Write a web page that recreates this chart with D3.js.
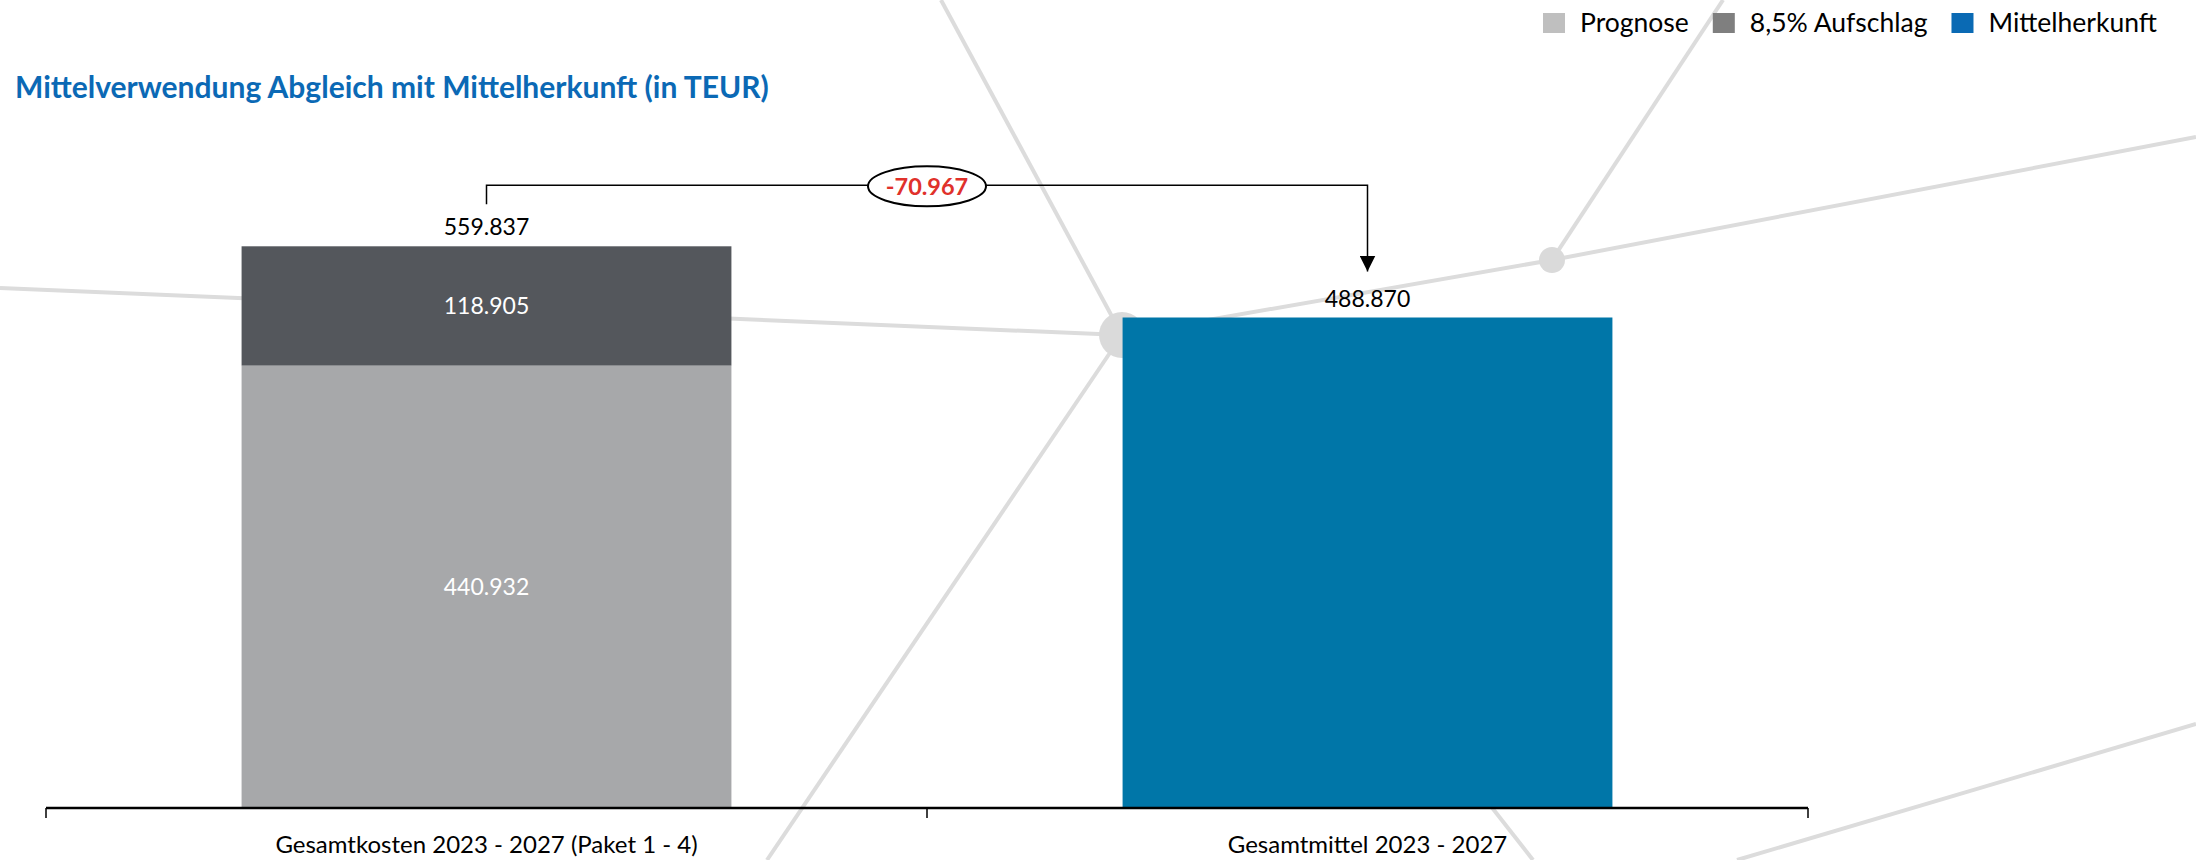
<!DOCTYPE html>
<html>
<head>
<meta charset="utf-8">
<title>Mittelverwendung Abgleich mit Mittelherkunft</title>
<script src="https://d3js.org/d3.v7.min.js"></script>
<style>
body { margin: 0; background: #fff; }
text { font-family: Lato, "Open Sans", sans-serif; }
</style>
</head>
<body>
<div id="chart"></div>
<script>
// data (TEUR)
var categories = ["Gesamtkosten 2023 - 2027 (Paket 1 - 4)", "Gesamtmittel 2023 - 2027"];
var seriesNames = ["Prognose", "8,5% Aufschlag", "Mittelherkunft"];
var prognose = [440932, 0];
var aufschlag = [118905, 0];
var mittelherkunft = [0, 488870];

var barColors = ["#a7a8aa", "#54575c", "#0076a8"];
var legendColors = ["#bfbfbf", "#7f7f7f", "#0a6ab4"];

// background decoration (network lines)
var decoLines = [
  [[0, 288], [1122, 335]],
  [[941, 0], [1122, 335]],
  [[1122, 335], [767, 860]],
  [[1122, 335], [1552, 260], [2196, 137]],
  [[1552, 260], [1723, 0]],
  [[1122, 335], [1533, 860]],
  [[2196, 724], [1737, 860]]
];
var decoDots = [[1122, 335, 23], [1552, 260, 13]];

var W = 2196, H = 860;
var fmt = d3.formatLocale({decimal: ",", thousands: ".", grouping: [3], currency: ["", "€"]}).format(",d");

var svg = d3.select("#chart").append("svg")
  .attr("width", W)
  .attr("height", H);

// decoration
svg.append("g")
  .selectAll("path")
  .data(decoLines)
  .enter().append("path")
    .attr("d", d3.line())
    .attr("fill", "none")
    .attr("stroke", "#dcdcdc")
    .attr("stroke-width", 4);
svg.append("g")
  .selectAll("circle")
  .data(decoDots)
  .enter().append("circle")
    .attr("cx", function(d) { return d[0]; })
    .attr("cy", function(d) { return d[1]; })
    .attr("r", function(d) { return d[2]; })
    .attr("fill", "#dadada");

// title
svg.append("text")
  .attr("x", 15)
  .attr("y", 98)
  .attr("fill", "#0b69b5")
  .attr("font-weight", "bold")
  .attr("font-size", 30)
  .text("Mittelverwendung Abgleich mit Mittelherkunft (in TEUR)");

// legend
var lx = 1543;
seriesNames.forEach(function(name, i) {
  svg.append("rect")
    .attr("x", lx).attr("y", 13)
    .attr("width", 22).attr("height", 20)
    .attr("fill", legendColors[i]);
  var t = svg.append("text")
    .attr("x", lx + 37)
    .attr("y", 32)
    .attr("font-size", 26.5)
    .attr("fill", "#000")
    .text(name);
  lx = lx + 37 + t.node().getComputedTextLength() + 24;
});

var table = categories.map(function(c, i) {
  var row = {cat: c};
  row[seriesNames[0]] = prognose[i];
  row[seriesNames[1]] = aufschlag[i];
  row[seriesNames[2]] = mittelherkunft[i];
  return row;
});
var totals = table.map(function(d) {
  return d3.sum(seriesNames, function(k) { return d[k]; });
});

var x = d3.scaleBand()
  .domain(categories)
  .range([46, 1808])
  .padding(0);
var barW = x.bandwidth() * 0.556;
var cx = function(c) { return x(c) + x.bandwidth() / 2; };

var y = d3.scaleLinear()
  .domain([0, 600000])
  .range([808, 206]);

var color = d3.scaleOrdinal().domain(seriesNames).range(barColors);

var stacked = d3.stack().keys(seriesNames)(table);

var layers = svg.append("g")
  .selectAll("g")
  .data(stacked)
  .enter().append("g")
    .attr("fill", function(d) { return color(d.key); });

layers.selectAll("rect")
  .data(function(d) { return d.filter(function(p) { return p[1] > p[0]; }); })
  .enter().append("rect")
    .attr("x", function(d) { return cx(d.data.cat) - barW / 2; })
    .attr("y", function(d) { return y(d[1]); })
    .attr("height", function(d) { return y(d[0]) - y(d[1]); })
    .attr("width", barW);

// segment labels inside the stacked bar
stacked.slice(0, 2).forEach(function(layer) {
  layer.forEach(function(p) {
    if (p[1] <= p[0]) return;
    svg.append("text")
      .attr("x", cx(p.data.cat))
      .attr("y", (y(p[0]) + y(p[1])) / 2)
      .attr("dy", "0.35em")
      .attr("text-anchor", "middle")
      .attr("font-size", 23)
      .attr("fill", "#fff")
      .text(fmt(p[1] - p[0]));
  });
});

// total labels
categories.forEach(function(c, i) {
  svg.append("text")
    .attr("x", cx(c))
    .attr("y", y(totals[i]) - 11)
    .attr("text-anchor", "middle")
    .attr("font-size", 23)
    .attr("fill", "#000")
    .text(fmt(totals[i]));
});

// axis
var axis = svg.append("g");
axis.append("line")
  .attr("x1", x.range()[0]).attr("x2", x.range()[1])
  .attr("y1", y(0)).attr("y2", y(0))
  .attr("stroke", "#000").attr("stroke-width", 2.5);
var edges = categories.map(function(c) { return x(c); }).concat([x.range()[1]]);
axis.selectAll(".tick")
  .data(edges)
  .enter().append("line")
    .attr("x1", function(d) { return d; }).attr("x2", function(d) { return d; })
    .attr("y1", y(0)).attr("y2", y(0) + 10)
    .attr("stroke", "#000").attr("stroke-width", 1.5);
axis.selectAll(".lbl")
  .data(categories)
  .enter().append("text")
    .attr("x", function(d) { return cx(d); })
    .attr("y", 853)
    .attr("text-anchor", "middle")
    .attr("font-size", 24)
    .attr("fill", "#000")
    .text(function(d) { return d; });

// difference bracket
var diff = totals[1] - totals[0];
var topY = y(d3.max(totals)) - 61;
var x0 = cx(categories[0]), x1 = cx(categories[1]);
var tipY = y(totals[1]) - 46;

svg.append("defs").append("marker")
  .attr("id", "arrow")
  .attr("viewBox", "0 0 16 16")
  .attr("refX", 16).attr("refY", 8)
  .attr("markerWidth", 16).attr("markerHeight", 16)
  .attr("markerUnits", "userSpaceOnUse")
  .attr("orient", "auto")
  .append("path")
    .attr("d", "M0,0 L16,8 L0,16 Z")
    .attr("fill", "#000");

svg.append("path")
  .attr("d", d3.line()([[x0, y(totals[0]) - 42], [x0, topY], [x1, topY], [x1, tipY]]))
  .attr("fill", "none")
  .attr("stroke", "#000")
  .attr("stroke-width", 1.5)
  .attr("marker-end", "url(#arrow)");

var mx = x(categories[1]);
svg.append("ellipse")
  .attr("cx", mx).attr("cy", topY + 1)
  .attr("rx", 59).attr("ry", 20)
  .attr("fill", "#fff")
  .attr("stroke", "#000")
  .attr("stroke-width", 2);
svg.append("text")
  .attr("x", mx)
  .attr("y", topY + 1)
  .attr("dy", "0.36em")
  .attr("text-anchor", "middle")
  .attr("font-size", 23.5)
  .attr("font-weight", "bold")
  .attr("fill", "#e0312b")
  .text(fmt(diff).replace("−", "-"));
</script>
</body>
</html>
